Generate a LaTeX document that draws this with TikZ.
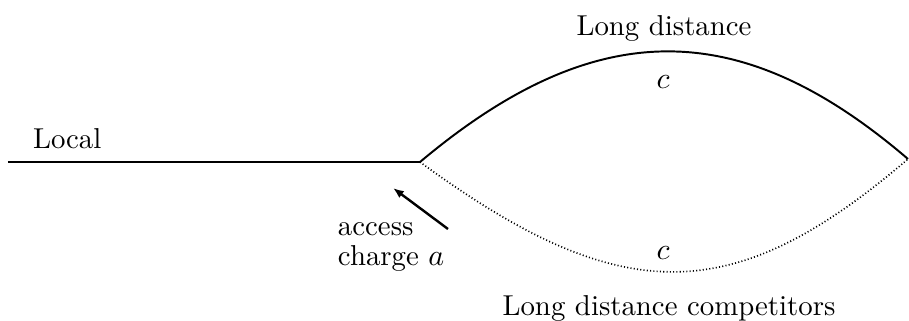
\documentclass[tikz,border=0pt]{standalone}
\usetikzlibrary{arrows.meta}
\begin{document}
\begin{tikzpicture}[x={(0.3333pt,0)}, y={(0,-0.3333pt)},
  lbl/.style={inner sep=0pt, outer sep=0pt, font=\fontsize{9.6}{11.5}\selectfont},
  route/.style={line width=0.65pt},
  rival/.style={line width=0.55pt, dash pattern=on 0.35pt off 0.75pt},
  pointer/.style={line width=0.8pt, -{Latex[length=3.6pt,width=2.8pt]}}]
  \useasboundingbox (0,0) rectangle (909,321);
  % junction points
  \coordinate (start) at (8,162);
  \coordinate (fork) at (420,162);
  \coordinate (merge) at (908,159);
  % local segment
  \draw[route] (start) -- (fork);
  % long distance route (upper) and competitors (lower)
  \draw[route] (fork) .. controls (595,15) and (740,15) .. (merge);
  \draw[rival] (fork) .. controls (621,309) and (733,309) .. (merge);
  % labels
  \node[lbl, anchor=base west] (local) at (33,148) {Local};
  \node[lbl, anchor=base] (ld) at (664,35) {Long distance};
  \node[lbl, anchor=base] (cup) at (663,88) {$c$};
  \node[lbl, anchor=base] (cdown) at (663,259) {$c$};
  \node[lbl, anchor=base] (ldc) at (669,315) {Long distance competitors};
  \node[lbl, anchor=base west] (acc) at (338,235) {access};
  \node[lbl, anchor=base west] (chg) at (338,265) {charge $a$};
  % access charge arrow
  \coordinate (tail) at (448,229);
  \coordinate (head) at (393,188);
  \draw[pointer] (tail) -- (head);
\end{tikzpicture}
\end{document}
